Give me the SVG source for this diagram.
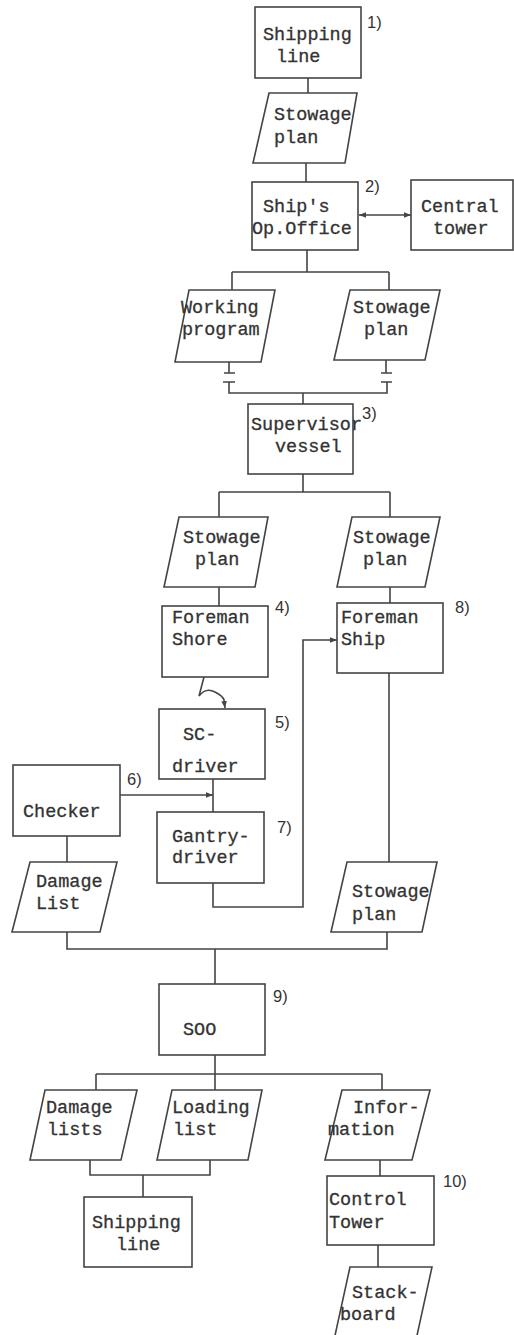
<svg xmlns="http://www.w3.org/2000/svg" width="514" height="1335" viewBox="0 0 514 1335">
<defs>
<style>
.n{fill:#fff;stroke:#444;stroke-width:1.6}
.t{font-family:"Liberation Mono","DejaVu Sans Mono",monospace;font-size:18.5px;fill:#333;stroke:#333;stroke-width:0.3}
.l{font-family:"Liberation Sans",Arial,sans-serif;font-size:16.5px;fill:#333}
.c{fill:none;stroke:#444;stroke-width:1.6}
</style>
<marker id="ah" viewBox="0 0 10 10" refX="10" refY="5" markerWidth="7" markerHeight="7" markerUnits="userSpaceOnUse" orient="auto-start-reverse">
<path d="M0,1 L10,5 L0,9 Z" fill="#444"/>
</marker>
</defs>
<rect width="514" height="1335" fill="#fff"/>

<g id="connectors">
<path class="c" d="M308,78 V93"/>
<path class="c" d="M306,163 V182"/>
<path class="c" d="M359,215 H411" marker-start="url(#ah)" marker-end="url(#ah)"/>
<path class="c" d="M307,250 V272 M232,272 H389 M232,272 V290 M389,272 V290"/>
<path class="c" d="M229,362 V373 M224,373 H235 M223,382 H235 M229,382 V393 H387 V382 M381,382 H392 M381,373 H392 M386,360 V373"/>
<path class="c" d="M303,393 V404"/>
<path class="c" d="M303,474 V492 M219,492 H390 M219,492 V517 M390,492 V517"/>
<path class="c" d="M219,587 V606 M390,587 V603"/>
<path class="c" d="M204,677 L199,696 Q206,687 215,692 Q223,696 224,700 L225,708" marker-end="url(#ah)"/>
<path class="c" d="M120,795 H213" marker-end="url(#ah)"/>
<path class="c" d="M213,779 V812"/>
<path class="c" d="M213,883 V907 H303 V640 H337" marker-end="url(#ah)"/>
<path class="c" d="M389,673 V862"/>
<path class="c" d="M67,836 V862"/>
<path class="c" d="M67,932 V949 H387 V932 M215,949 V984"/>
<path class="c" d="M215,1055 V1090 M96,1074 H382 M96,1074 V1090 M382,1074 V1090"/>
<path class="c" d="M90,1160 V1175 H210 V1160 M143,1175 V1197"/>
<path class="c" d="M380,1160 V1176 M378,1245 V1267"/>
</g>

<g id="shipping-line-top">
<rect class="n" x="255" y="7" width="106" height="71"/>
<text class="t" x="263" y="40">Shipping</text>
<text class="t" x="276" y="62">line</text>
<text class="l" x="367" y="28">1)</text>
</g>

<g id="stowage-plan-1">
<polygon class="n" points="269,93 357,93 345,163 253,163"/>
<text class="t" x="274" y="120">Stowage</text>
<text class="t" x="274" y="143">plan</text>
</g>

<g id="ships-op-office">
<rect class="n" x="252" y="182" width="106" height="68"/>
<text class="t" x="263" y="212">Ship's</text>
<text class="t" x="252" y="234">Op.Office</text>
<text class="l" x="365" y="192">2)</text>
</g>

<g id="central-tower">
<rect class="n" x="411" y="180" width="102" height="70"/>
<text class="t" x="421" y="212">Central</text>
<text class="t" x="433" y="234">tower</text>
</g>

<g id="working-program">
<polygon class="n" points="189,290 275,290 261,362 175,362"/>
<text class="t" x="181" y="313">Working</text>
<text class="t" x="182" y="335">program</text>
</g>

<g id="stowage-plan-2">
<polygon class="n" points="350,290 440,290 425,360 334,360"/>
<text class="t" x="353" y="313">Stowage</text>
<text class="t" x="364" y="335">plan</text>
</g>

<g id="supervisor-vessel">
<rect class="n" x="248" y="404" width="105" height="70"/>
<text class="t" x="251" y="430">Supervisor</text>
<text class="t" x="275" y="452">vessel</text>
<text class="l" x="362" y="419">3)</text>
</g>

<g id="stowage-plan-3">
<polygon class="n" points="179,517 268,517 255,587 164,587"/>
<text class="t" x="183" y="543">Stowage</text>
<text class="t" x="195" y="565">plan</text>
</g>

<g id="stowage-plan-4">
<polygon class="n" points="352,517 440,517 425,587 337,587"/>
<text class="t" x="353" y="543">Stowage</text>
<text class="t" x="363" y="565">plan</text>
</g>

<g id="foreman-shore">
<rect class="n" x="162" y="606" width="106" height="71"/>
<text class="t" x="172" y="623">Foreman</text>
<text class="t" x="172" y="645">Shore</text>
<text class="l" x="275" y="613">4)</text>
</g>

<g id="foreman-ship">
<rect class="n" x="337" y="603" width="106" height="70"/>
<text class="t" x="341" y="623">Foreman</text>
<text class="t" x="341" y="645">Ship</text>
<text class="l" x="455" y="613">8)</text>
</g>

<g id="sc-driver">
<rect class="n" x="159" y="709" width="106" height="70"/>
<text class="t" x="183" y="740">SC-</text>
<text class="t" x="172" y="772">driver</text>
<text class="l" x="275" y="728">5)</text>
</g>

<g id="checker">
<rect class="n" x="13" y="765" width="107" height="71"/>
<text class="t" x="23" y="817">Checker</text>
<text class="l" x="127" y="785">6)</text>
</g>

<g id="gantry-driver">
<rect class="n" x="157" y="812" width="107" height="71"/>
<text class="t" x="172" y="842">Gantry-</text>
<text class="t" x="172" y="863">driver</text>
<text class="l" x="277" y="833">7)</text>
</g>

<g id="damage-list">
<polygon class="n" points="30,862 117,862 100,932 12,932"/>
<text class="t" x="36" y="887">Damage</text>
<text class="t" x="36" y="909">List</text>
</g>

<g id="stowage-plan-5">
<polygon class="n" points="347,862 437,862 422,932 331,932"/>
<text class="t" x="352" y="897">Stowage</text>
<text class="t" x="352" y="920">plan</text>
</g>

<g id="soo">
<rect class="n" x="159" y="984" width="106" height="71"/>
<text class="t" x="183" y="1035">SOO</text>
<text class="l" x="273" y="1002">9)</text>
</g>

<g id="damage-lists">
<polygon class="n" points="45,1090 137,1090 121,1160 30,1160"/>
<text class="t" x="46" y="1113">Damage</text>
<text class="t" x="47" y="1135">lists</text>
</g>

<g id="loading-list">
<polygon class="n" points="172,1090 262,1090 248,1160 157,1160"/>
<text class="t" x="172" y="1113">Loading</text>
<text class="t" x="173" y="1135">list</text>
</g>

<g id="information">
<polygon class="n" points="342,1090 430,1090 412,1160 325,1160"/>
<text class="t" x="353" y="1113">Infor-</text>
<text class="t" x="328" y="1135">mation</text>
</g>

<g id="shipping-line-bottom">
<rect class="n" x="84" y="1197" width="108" height="70"/>
<text class="t" x="92" y="1228">Shipping</text>
<text class="t" x="116" y="1250">line</text>
</g>

<g id="control-tower">
<rect class="n" x="327" y="1176" width="107" height="69"/>
<text class="t" x="329" y="1205">Control</text>
<text class="t" x="329" y="1228">Tower</text>
<text class="l" x="443" y="1187">10)</text>
</g>

<g id="stack-board">
<polygon class="n" points="350,1267 432,1267 416,1340 334,1340"/>
<text class="t" x="352" y="1298">Stack-</text>
<text class="t" x="340" y="1320">board</text>
</g>
</svg>
